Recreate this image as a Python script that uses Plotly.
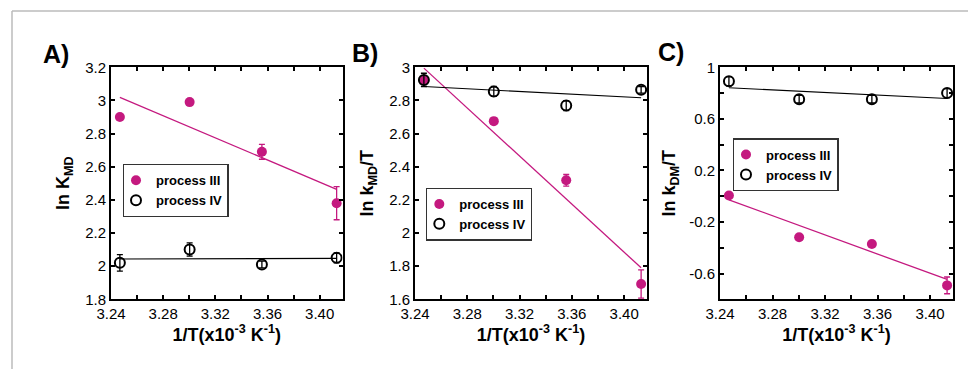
import plotly.graph_objects as go

# ---------------- data ----------------
inv_T = [3.2468, 3.3003, 3.3557, 3.4130]          # 1/T (x10^-3 K^-1)
fit_x = [3.2468, 3.4130]

# Panel A: ln K_MD
a_iii = [2.90, 2.99, 2.69, 2.38]
a_iii_err = [0.01, 0.01, 0.045, 0.10]
a_iv = [2.02, 2.10, 2.01, 2.05]
a_iv_err = [0.05, 0.04, 0.02, 0.03]
a_iii_fit = [3.019, 2.463]
a_iv_fit = [2.043, 2.047]

# Panel B: ln k_MD/T
b_iii = [2.92, 2.675, 2.318, 1.692]
b_iii_err = [0.02, 0.02, 0.035, 0.085]
b_iv = [2.924, 2.854, 2.769, 2.864]
b_iv_err = [0.04, 0.03, 0.03, 0.02]
b_iii_fit = [2.995, 1.790]
b_iv_fit = [2.884, 2.816]

# Panel C: ln k_DM/T
c_iii = [0.005, -0.319, -0.371, -0.692]
c_iii_err = [0.02, 0.02, 0.02, 0.065]
c_iv = [0.892, 0.753, 0.753, 0.800]
c_iv_err = [0.035, 0.03, 0.03, 0.035]
c_iii_fit = [-0.028, -0.646]
c_iv_fit = [0.841, 0.758]

x_tickvals = [3.24, 3.26, 3.28, 3.30, 3.32, 3.34, 3.36, 3.38, 3.40]
x_ticktext = ["3.24", "", "3.28", "", "3.32", "", "3.36", "", "3.40"]

a_tickvals = [1.8, 2.0, 2.2, 2.4, 2.6, 2.8, 3.0, 3.2]
a_ticktext = ["1.8", "2", "2.2", "2.4", "2.6", "2.8", "3", "3.2"]
b_tickvals = [1.6, 1.8, 2.0, 2.2, 2.4, 2.6, 2.8, 3.0]
b_ticktext = ["1.6", "1.8", "2", "2.2", "2.4", "2.6", "2.8", "3"]
c_tickvals = [-0.8, -0.6, -0.4, -0.2, 0.0, 0.2, 0.4, 0.6, 0.8, 1.0]
c_ticktext = ["", "-0.6", "", "-0.2", "", "0.2", "", "0.6", "", "1"]

series_names = ["process III", "process IV"]
panel_letters = ["A)", "B)", "C)"]
y_titles = ["<b>ln K<sub>MD</sub></b>", "<b>ln k<sub>MD</sub>/T</b>", "<b>ln k<sub>DM</sub>/T</b>"]
x_title = "<b>1/T(x10<sup>-3</sup> K<sup>-1</sup>)</b>"

# ---------------- styling ----------------
MAG = "#C4197F"
FONT = "Arial, Liberation Sans, sans-serif"
W, H = 968, 369

panels = [
    dict(iii=a_iii, iii_err=a_iii_err, iv=a_iv, iv_err=a_iv_err, iii_fit=a_iii_fit, iv_fit=a_iv_fit,
         yr=[1.8, 3.2], tv=a_tickvals, tt=a_ticktext, xpx=(111, 342.5), legpx=(122.7, 164)),
    dict(iii=b_iii, iii_err=b_iii_err, iv=b_iv, iv_err=b_iv_err, iii_fit=b_iii_fit, iv_fit=b_iv_fit,
         yr=[1.6, 3.0], tv=b_tickvals, tt=b_ticktext, xpx=(415, 647), legpx=(426, 187.7)),
    dict(iii=c_iii, iii_err=c_iii_err, iv=c_iv, iv_err=c_iv_err, iii_fit=c_iii_fit, iv_fit=c_iv_fit,
         yr=[-0.8, 1.0], tv=c_tickvals, tt=c_ticktext, xpx=(720, 953), legpx=(732.7, 138.3)),
]
letter_px = [(56, 54), (365, 53), (671, 52)]
ytitle_standoff = [11, 11, 9]

y_dom = [(H - 299.3) / H, (H - 67.3) / H]

fig = go.Figure()
layout = dict(
    width=W, height=H, margin=dict(l=0, r=0, t=0, b=0, autoexpand=False),
    paper_bgcolor="white", plot_bgcolor="white",
    font=dict(family=FONT, size=15, color="black"),
    showlegend=True, annotations=[], shapes=[],
)

for i, p in enumerate(panels):
    k = "" if i == 0 else str(i + 1)
    xa, ya = "x" + k, "y" + k
    leg = "legend" + k

    fig.add_trace(go.Scatter(
        x=fit_x, y=p["iii_fit"], mode="lines", xaxis=xa, yaxis=ya,
        line=dict(color=MAG, width=1.3), showlegend=False, hoverinfo="skip"))
    fig.add_trace(go.Scatter(
        x=fit_x, y=p["iv_fit"], mode="lines", xaxis=xa, yaxis=ya,
        line=dict(color="black", width=1.1), showlegend=False, hoverinfo="skip"))
    fig.add_trace(go.Scatter(
        x=inv_T, y=p["iii"], mode="markers", name="<b>" + series_names[0] + "</b>",
        xaxis=xa, yaxis=ya, legend=leg,
        marker=dict(symbol="circle", size=10, color=MAG),
        error_y=dict(type="data", array=p["iii_err"], color=MAG, thickness=1.3, width=3)))
    fig.add_trace(go.Scatter(
        x=inv_T, y=p["iv"], mode="markers", name="<b>" + series_names[1] + "</b>",
        xaxis=xa, yaxis=ya, legend=leg,
        marker=dict(symbol="circle-open", size=10, color="black", line=dict(width=2)),
        error_y=dict(type="data", array=p["iv_err"], color="black", thickness=1.3, width=3)))

    axis_common = dict(
        showline=True, linecolor="black", linewidth=2, mirror="ticks",
        ticks="inside", ticklen=4, tickwidth=1.5, tickcolor="black",
        showgrid=False, zeroline=False, tickfont=dict(size=15, family=FONT),
        automargin=False,
    )
    layout["xaxis" + k] = dict(
        axis_common, domain=[p["xpx"][0] / W, p["xpx"][1] / W], range=[3.24, 3.4175],
        anchor=ya, tickmode="array", tickvals=x_tickvals, ticktext=x_ticktext,
        title=dict(text=x_title, font=dict(size=18, family=FONT), standoff=4),
    )
    layout["yaxis" + k] = dict(
        axis_common, domain=y_dom, range=p["yr"], anchor=xa,
        tickmode="array", tickvals=p["tv"], ticktext=p["tt"],
        title=dict(text=y_titles[i], font=dict(size=18, family=FONT), standoff=ytitle_standoff[i]),
    )
    layout[leg] = dict(
        x=p["legpx"][0] / W, y=1 - p["legpx"][1] / H, xanchor="left", yanchor="top",
        bgcolor="white", bordercolor="#333333", borderwidth=1.3,
        font=dict(size=13, family=FONT, color="black"), itemwidth=30,
        tracegroupgap=0, indentation=-8,
    )
    layout["annotations"].append(dict(
        text="<b>" + panel_letters[i] + "</b>", x=letter_px[i][0] / W, y=1 - letter_px[i][1] / H,
        xref="paper", yref="paper", showarrow=False, xanchor="center", yanchor="middle",
        font=dict(size=25, family=FONT, color="black")))

# light grey outer frame (top and left edges)
layout["shapes"] = [
    dict(type="line", xref="paper", yref="paper", x0=12 / W, x1=1, y0=1 - 11 / H, y1=1 - 11 / H,
         line=dict(color="#BBBBBB", width=1.5)),
    dict(type="line", xref="paper", yref="paper", x0=12 / W, x1=12 / W, y0=0, y1=1 - 11 / H,
         line=dict(color="#BBBBBB", width=1.5)),
]

fig.update_layout(**layout)
fig.write_html(
    "out.html",
    config={"responsive": False, "displayModeBar": False},
    post_script="document.body.style.margin='0';document.body.style.padding='0';"
                "document.documentElement.style.overflow='hidden';",
)
